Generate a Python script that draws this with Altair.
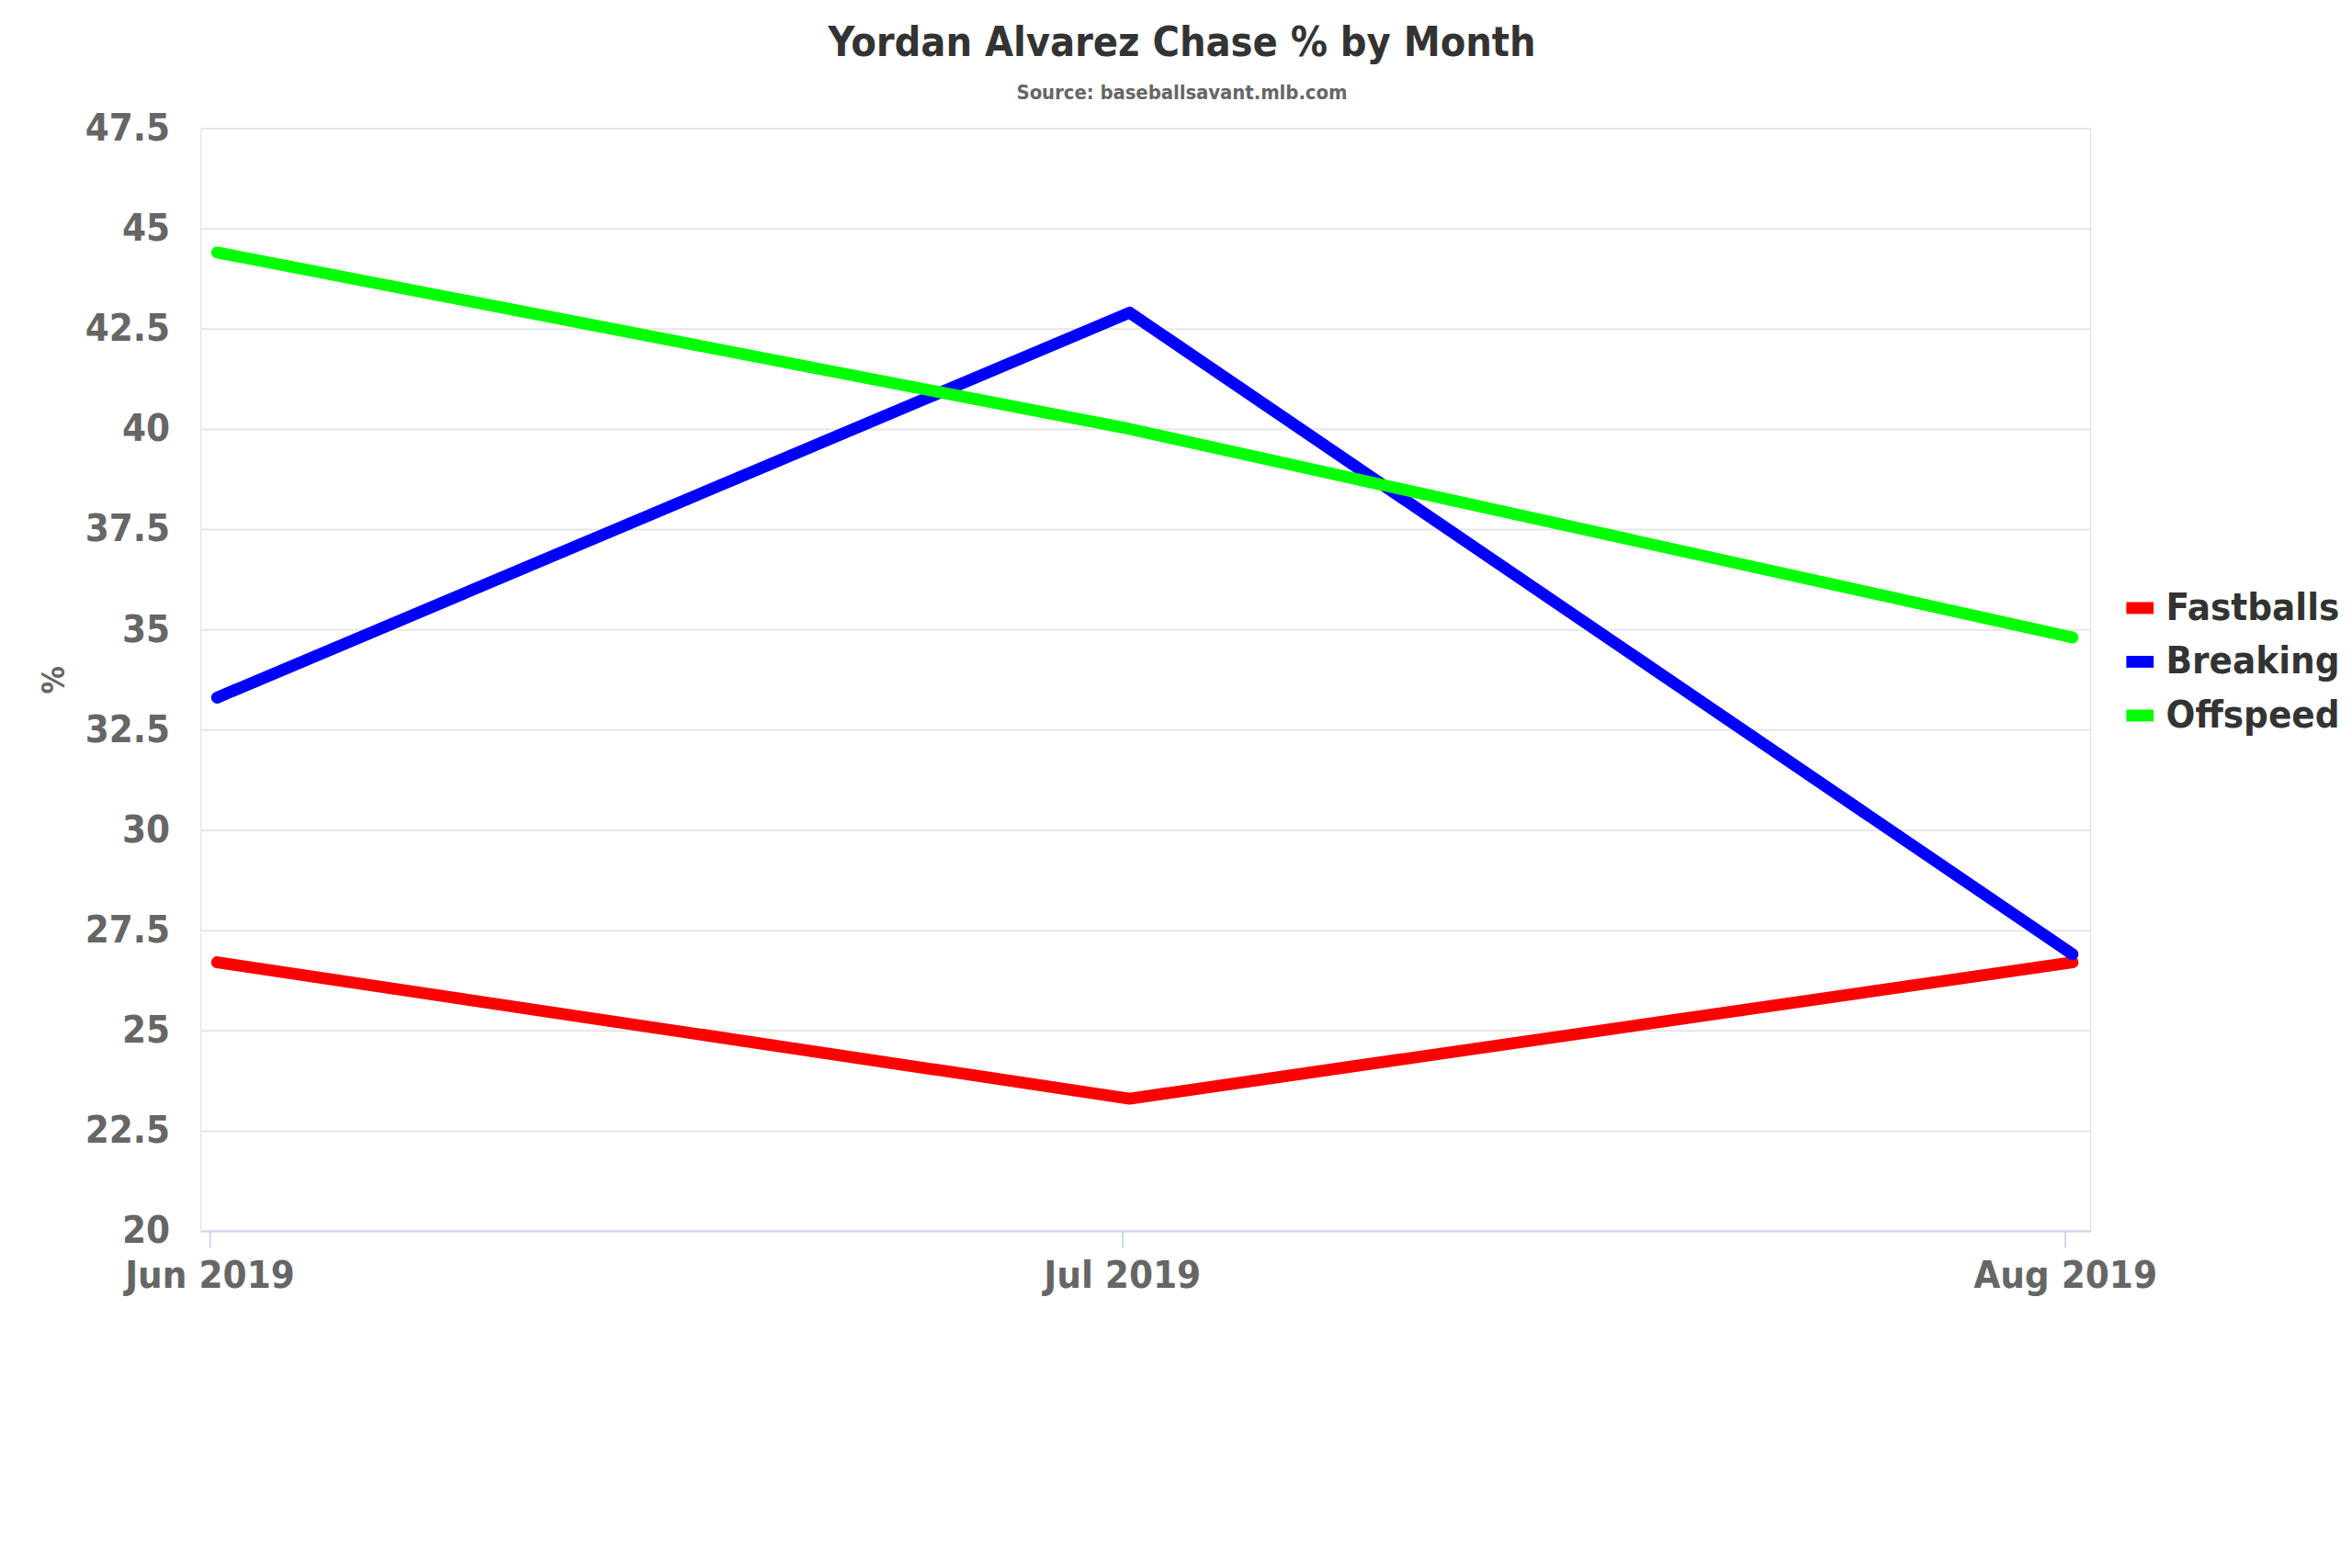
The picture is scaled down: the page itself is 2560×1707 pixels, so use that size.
import altair as alt
import pandas as pd

# ---- data ----
months = ["2019-06-01T06:00:00", "2019-07-01T06:00:00", "2019-08-01T06:00:00"]
fastballs = [26.7, 23.3, 26.7]
breaking = [33.3, 42.9, 26.9]
offspeed = [44.4, 40.0, 34.8]
series_names = ["Fastballs", "Breaking", "Offspeed"]
series_colors = ["#ff0000", "#0000ff", "#00ff00"]
y_ticks = [20, 22.5, 25, 27.5, 30, 32.5, 35, 37.5, 40, 42.5, 45, 47.5]

rows = []
for name, vals in zip(series_names, [fastballs, breaking, offspeed]):
    for m, v in zip(months, vals):
        rows.append({"month": m, "value": v, "series": name})
df = pd.DataFrame(rows)

FONT = "Liberation Sans Narrow, DejaVu Sans Condensed, Roboto, sans-serif"

x_axis = alt.Axis(
    values=[alt.DateTime(year=2019, month=m, date=1) for m in (6, 7, 8)],
    format="%b %Y",
    title=None,
    grid=False,
    domain=True,
    domainColor="#ccd6eb",
    domainWidth=2,
    ticks=True,
    tickColor="#ccd6eb",
    tickWidth=2,
    tickSize=18,
    labelFont=FONT,
    labelFontSize=42,
    labelFontWeight="bold",
    labelColor="#666666",
    labelPadding=11,
    labelOverlap=False,
    labelFlush=False,
    labelLimit=0,
)

y_axis = alt.Axis(
    values=y_ticks,
    labelExpr="'' + datum.value",
    title="%",
    titleFont=FONT,
    titleFontSize=34,
    titleFontWeight="bold",
    titleColor="#666666",
    titlePadding=16,
    grid=True,
    gridColor="#e6e6e6",
    gridWidth=2,
    domain=False,
    ticks=False,
    labelFont=FONT,
    labelFontSize=42,
    labelFontWeight="bold",
    labelColor="#666666",
    labelPadding=34,
    labelOverlap=False,
    labelFlush=False,
    labelLimit=0,
)

legend = alt.Legend(
    title=None,
    orient="none",
    legendX=2106,
    legendY=505,
    symbolType="stroke",
    symbolStrokeWidth=13,
    symbolSize=900,
    labelFont=FONT,
    labelFontSize=42,
    labelFontWeight="bold",
    labelColor="#333333",
    labelOffset=7,
    labelLimit=0,
    rowPadding=6,
    padding=0,
)

chart = (
    alt.Chart(df)
    .mark_line(strokeWidth=13, strokeCap="round", strokeJoin="round")
    .encode(
        x=alt.X(
            "month:T",
            scale=alt.Scale(
                domain=[
                    alt.DateTime(year=2019, month=5, date=31, hours=17),
                    alt.DateTime(year=2019, month=8, date=1, hours=20),
                ]
            ),
            axis=x_axis,
        ),
        y=alt.Y(
            "value:Q",
            scale=alt.Scale(domain=[20, 47.5], nice=False, zero=False),
            axis=y_axis,
        ),
        color=alt.Color(
            "series:N",
            scale=alt.Scale(domain=series_names, range=series_colors),
            sort=series_names,
            legend=legend,
        ),
    )
    .properties(
        width=2073,
        height=1210,
        title=alt.TitleParams(
            text="Yordan Alvarez Chase % by Month",
            subtitle="Source: baseballsavant.mlb.com",
            font=FONT,
            fontSize=45,
            fontWeight="bold",
            color="#333333",
            subtitleFont=FONT,
            subtitleFontSize=22,
            subtitleFontWeight="bold",
            subtitleColor="#666666",
            subtitlePadding=21,
            anchor="middle",
            frame="group",
            dx=40,
            offset=7,
        ),
        padding={"left": 34, "top": 12, "right": 5, "bottom": 5},
    )
    .configure_view(strokeWidth=0, strokeOpacity=0)
    .configure_axisY(domain=False)
    .configure(background="white")
)

chart.save("out.html", embed_options={"renderer": "svg", "actions": False})
